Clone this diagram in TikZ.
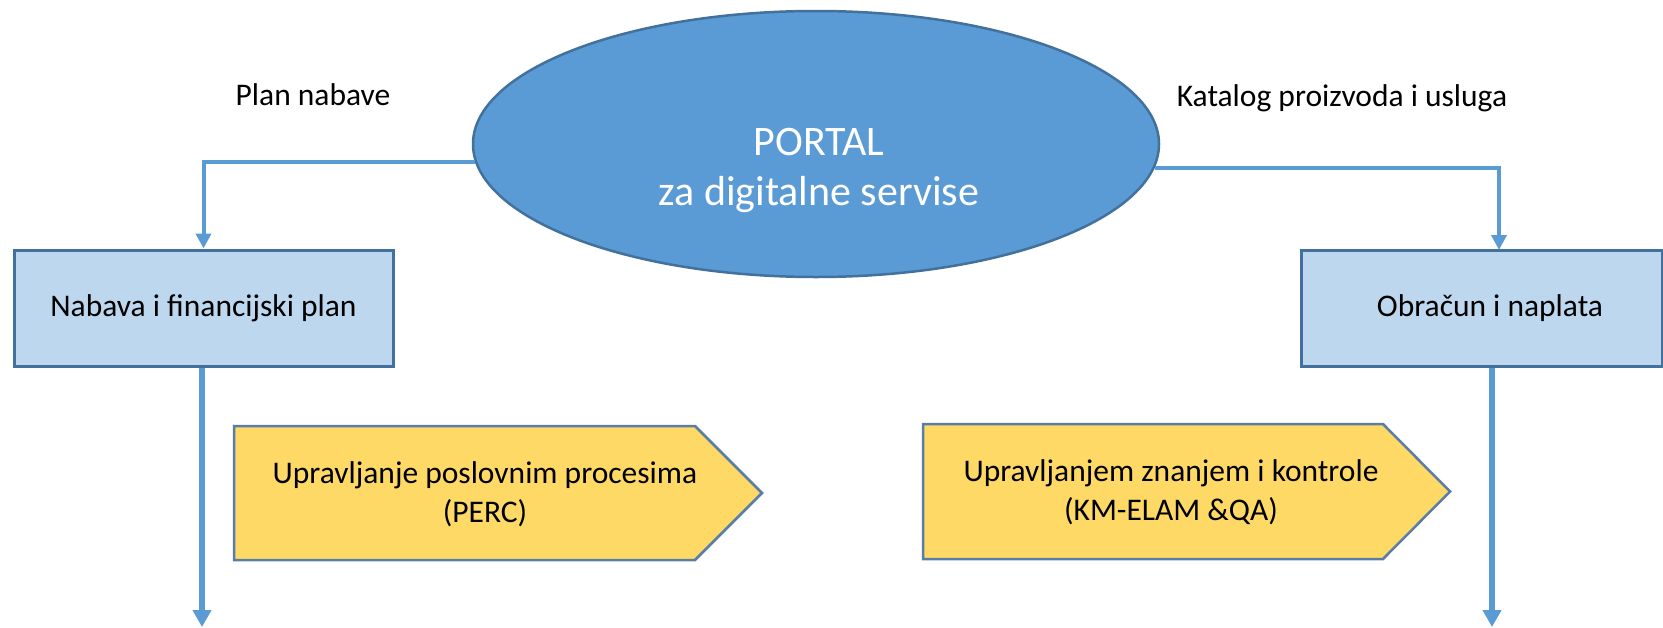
\documentclass[tikz,border=0pt]{standalone}
\usepackage{fontspec}
\setmainfont{Carlito}
\usetikzlibrary{arrows.meta,shapes.geometric}
\definecolor{portalblue}{HTML}{5B9BD5}
\definecolor{edgeblue}{HTML}{41719C}
\definecolor{boxfill}{HTML}{BDD7EE}
\definecolor{pentfill}{HTML}{FFD966}
\definecolor{pentedge}{HTML}{5A7DA8}
\tikzset{
  portalshape/.style={ellipse, draw=edgeblue, fill=portalblue, line width=2.5pt,
    minimum width=686pt, minimum height=266pt, inner sep=0pt},
  stagebox/.style={rectangle, draw=edgeblue, fill=boxfill, line width=3pt,
    minimum height=116pt, inner sep=0pt, font=\fontsize{31.5}{38}\selectfont},
  conn/.style={draw=portalblue, line width=4pt, -{Triangle[width=15pt,length=15pt]}},
  downarrow/.style={draw=portalblue, line width=6pt, -{Triangle[width=18pt,length=17pt]}},
  pentshape/.style={draw=pentedge, fill=pentfill, line width=2.5pt, line join=miter},
  lbl/.style={font=\fontsize{31.5}{38}\selectfont, anchor=base, inner sep=0pt},
  portaltxt/.style={font=\fontsize{42}{50}\selectfont, text=white, anchor=base, inner sep=0pt},
  penttxt/.style={font=\fontsize{31.5}{39}\selectfont, align=center, inner sep=0pt}
}
\begin{document}
\begin{tikzpicture}[x=1pt,y=-1pt]
\useasboundingbox (0,0) rectangle (1663,627);
\fill[white] (0,0) rectangle (1663,627);

% central ellipse
\node[portalshape] (portal) at (816,144) {};
\node[portaltxt] (portal1) at (819,155) {PORTAL};
\node[portaltxt] (portal2) at (819,205) {za digitalne servise};

% side labels
\node[lbl] (plan) at (313,105) {Plan nabave};
\node[lbl] (katalog) at (1342,106) {Katalog proizvoda i usluga};

% boxes
\node[stagebox, minimum width=379pt] (lbox) at (203.5,308) {Nabava i financijski plan};
\node[stagebox, minimum width=361pt] (rbox) at (1481.5,308) {\hspace*{17pt}Obračun i naplata};

% connectors from portal
\coordinate (rin) at (1499,250);
\draw[conn] (portal.183.9) -| (lbox.north);
\draw[conn] (portal.356.1) -| (rin);

% lower arrows
\coordinate (lend) at (202,627);
\coordinate (rend) at (1492,627);
\draw[downarrow] (lbox.south -| lend) -- (lend);
\draw[downarrow] (rbox.south -| rend) -- (rend);

% pentagons
\draw[pentshape] (234,426) -- (695,426) -- (762,493) -- (695,560) -- (234,560) -- cycle;
\node[penttxt] (perc) at (485,494) {Upravljanje poslovnim procesima\\(PERC)};
\draw[pentshape] (923,424) -- (1383,424) -- (1450,491.5) -- (1383,559) -- (923,559) -- cycle;
\node[penttxt] (km) at (1171,492) {Upravljanjem znanjem i kontrole\\(KM-ELAM \&QA)};
\end{tikzpicture}
\end{document}
